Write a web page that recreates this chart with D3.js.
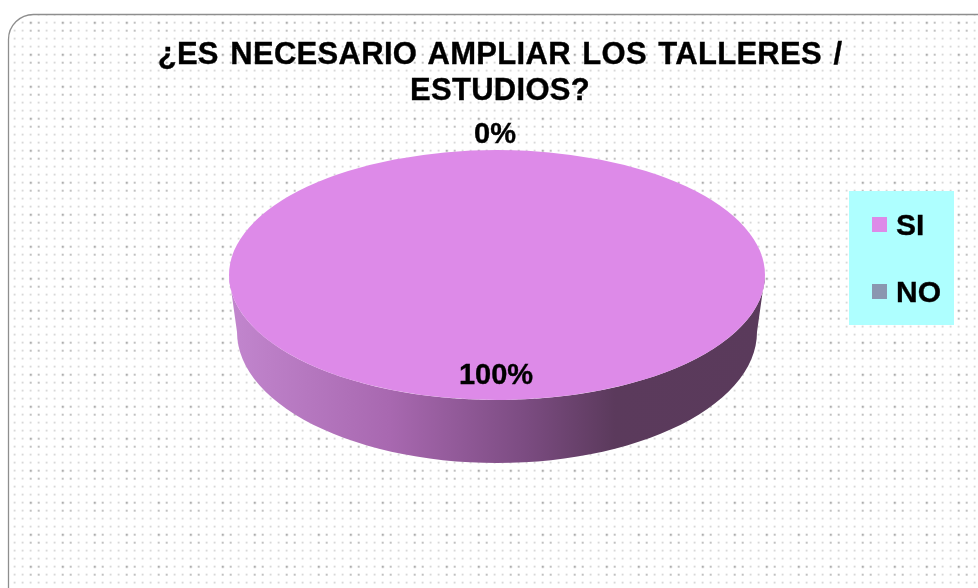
<!DOCTYPE html>
<html><head><meta charset="utf-8">
<script src="https://cdn.jsdelivr.net/npm/d3@7"></script>
<style>html,body{margin:0;padding:0;background:#fff;overflow:hidden}svg{display:block;font-family:"Liberation Sans",Arial,sans-serif;filter:blur(0.45px)}text{stroke:#000;stroke-width:0.35px}</style>
</head><body><svg id="c" width="978" height="588"></svg>
<script>
const titleLines = ["¿ES NECESARIO AMPLIAR LOS TALLERES /", "ESTUDIOS?"];
const categories = ["SI", "NO"];
const seriesValues = [100, 0];
const sliceColors = ["#dd8ae8", "#8a97b0"];
const sideStops = [[0,"#c286ce"],[0.3,"#a868b0"],[0.55,"#7c4c82"],[0.72,"#5b3a5c"],[1,"#5a3a5b"]];

const svg = d3.select("#c");
const defs = svg.append("defs");

// dotted background texture
const pat = defs.append("pattern").attr("id","dots").attr("patternUnits","userSpaceOnUse")
  .attr("width",32).attr("height",32).attr("x",29.7).attr("y",21.7);
d3.range(4).forEach(i=>d3.range(4).forEach(j=>{
  const tone = (i===0&&j===0)?"#acacac":((i<2&&j<2)?"#c0c0c0":"#d0d0d0");
  const size = (i===0&&j===0)?2.2:((i<2&&j<2)?2:1.7);
  pat.append("rect").attr("x",i*8).attr("y",j*8).attr("width",size).attr("height",size).attr("fill",tone);
}));
svg.append("rect").attr("x",8.5).attr("y",14.5).attr("width",1000).attr("height",620).attr("rx",25)
  .attr("fill","#fff");
svg.append("rect").attr("x",8.5).attr("y",14.5).attr("width",1000).attr("height",620).attr("rx",25)
  .attr("fill","url(#dots)").attr("stroke","#8e8e8e").attr("stroke-width",1.3);

// pie geometry
const cx=497, cy=275, rx=268, ry=125, bcx=497, bcy=332, brx=260, bry=131;
const pie = d3.pie().sort(null).value(d=>d)(seriesValues);
const arc = d3.arc().innerRadius(0).outerRadius(1);

const grad = defs.append("linearGradient").attr("id","side").attr("gradientUnits","userSpaceOnUse")
  .attr("x1",cx-rx).attr("x2",cx+rx).attr("y1",0).attr("y2",0);
sideStops.forEach(s=>grad.append("stop").attr("offset",s[0]).attr("stop-color",s[1]));

// side wall: lower half of top ellipse to lower half of bottom ellipse
const lowerAngles = d3.range(0,181,3).map(d=>d*Math.PI/180);
const topEdge = lowerAngles.map(a=>[cx+rx*Math.cos(a),cy+ry*Math.sin(a)]);
const botEdge = lowerAngles.map(a=>[bcx+brx*Math.cos(a),bcy+bry*Math.sin(a)]).reverse();
svg.append("path").attr("d",d3.line()(topEdge.concat(botEdge))+"Z").attr("fill","url(#side)");

// top face
svg.append("g").attr("transform",`translate(${cx},${cy}) scale(${rx},${ry})`)
  .selectAll("path").data(pie).join("path").attr("d",arc)
  .attr("fill",(d,i)=>sliceColors[i]);

// title
svg.append("g").selectAll("text").data(titleLines).join("text")
  .attr("x",500).attr("y",(d,i)=>64+i*36).attr("text-anchor","middle")
  .attr("font-size",31).attr("font-weight",700).attr("fill","#000")
  .attr("letter-spacing",0.3).attr("word-spacing",2.5).text(d=>d);

// data labels
const labelPos = [[496,384],[495,143]];
svg.append("g").selectAll("text").data(seriesValues).join("text")
  .attr("x",(d,i)=>labelPos[i][0]).attr("y",(d,i)=>labelPos[i][1]).attr("text-anchor","middle")
  .attr("font-size",29).attr("font-weight",700).attr("fill","#000").text(d=>d+"%");

// legend
svg.append("rect").attr("x",849).attr("y",191).attr("width",105).attr("height",134).attr("fill","#aeffff");
const lg = svg.append("g").selectAll("g").data(categories).join("g")
  .attr("transform",(d,i)=>`translate(872,${217+i*67})`);
lg.append("rect").attr("width",15).attr("height",15).attr("fill",(d,i)=>sliceColors[i]);
lg.append("text").attr("x",24).attr("y",18).attr("font-size",30).attr("font-weight",700).text(d=>d);
</script></body></html>
